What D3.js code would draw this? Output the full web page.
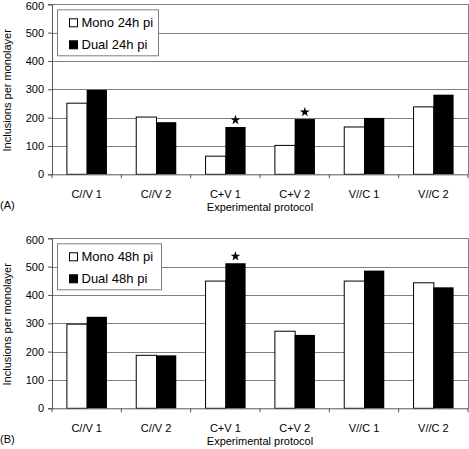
<!DOCTYPE html>
<html>
<head>
<meta charset="utf-8">
<script src="https://cdn.jsdelivr.net/npm/d3@7"></script>
<style>
  body { margin: 0; background: #fff; }
  svg { display: block; font-family: Arial, "Liberation Sans", sans-serif; }
</style>
</head>
<body>
<svg id="chart" width="469" height="449"></svg>
<script>
const categories = ["C//V 1", "C//V 2", "C+V 1", "C+V 2", "V//C 1", "V//C 2"];
const yTicks = [0, 100, 200, 300, 400, 500, 600];

const monoA = [251, 202, 64, 102, 167, 238];
const dualA = [298, 184, 167, 195, 199, 281];
const starsA = ["C+V 1", "C+V 2"];
const seriesA = ["Mono 24h pi", "Dual 24h pi"];

const monoB = [297, 187, 449, 272, 449, 443];
const dualB = [323, 187, 512, 259, 486, 427];
const starsB = ["C+V 1"];
const seriesB = ["Mono 48h pi", "Dual 48h pi"];

const svg = d3.select("#chart");
const left = 52, right = 468;
const gridColor = "#7f7f7f";

function panel(cfg) {
  const g = svg.append("g");
  const y = d3.scaleLinear().domain([0, 600]).range([cfg.y0, cfg.y0 - 170]);
  const x = d3.scaleBand().domain(categories).range([left, right]).padding(0);
  const xs = d3.scaleBand().domain(["mono", "dual"]).range([0, x.bandwidth()]).paddingOuter(0.71).paddingInner(0);

  // gridlines
  g.selectAll("line.grid").data(yTicks.filter(d => d > 0)).join("line")
    .attr("x1", left).attr("x2", right)
    .attr("y1", d => Math.round(y(d)) + 0.5).attr("y2", d => Math.round(y(d)) + 0.5)
    .attr("stroke", gridColor).attr("stroke-width", 1);
  // right border
  g.append("line").attr("x1", right + 0.5).attr("x2", right + 0.5)
    .attr("y1", y(600)).attr("y2", y(0)).attr("stroke", gridColor);

  // bars
  const rows = categories.map((c, i) => ({ c, mono: cfg.mono[i], dual: cfg.dual[i] }));
  const grp = g.selectAll("g.cat").data(rows).join("g")
    .attr("transform", d => `translate(${x(d.c)},0)`);
  grp.append("rect")
    .attr("x", xs("mono") + 0.5).attr("width", xs.bandwidth())
    .attr("y", d => y(d.mono)).attr("height", d => y(0) - y(d.mono))
    .attr("fill", "#fff").attr("stroke", "#000").attr("stroke-width", 1);
  grp.append("rect")
    .attr("x", xs("dual")).attr("width", xs.bandwidth())
    .attr("y", d => y(d.dual)).attr("height", d => y(0) - y(d.dual))
    .attr("fill", "#000");

  // stars
  const star = d3.symbol(d3.symbolStar, 30);
  g.selectAll("path.star").data(rows.filter(d => cfg.stars.includes(d.c))).join("path")
    .attr("d", star)
    .attr("transform", d => `translate(${x(d.c) + xs("dual") + xs.bandwidth() / 2},${y(d.dual) - 7})`)
    .attr("fill", "#000");

  // y axis
  const ya = g.append("g").attr("transform", `translate(${left},0)`)
    .call(d3.axisLeft(y).tickValues(yTicks).tickSize(4).tickPadding(4));
  ya.select(".domain").attr("stroke", "#555");
  ya.selectAll(".tick line").attr("stroke", "#555");
  ya.selectAll("text").attr("font-size", 11).attr("fill", "#000")
    .attr("font-family", "Arial, 'Liberation Sans', sans-serif")
    .attr("dy", d => d === 600 ? "0.45em" : "0.32em");

  // x axis
  const xa = g.append("g").attr("transform", `translate(0,${y(0)})`)
    .call(d3.axisBottom(x).tickSize(0).tickPadding(16));
  xa.select(".domain").attr("stroke", "#555");
  xa.selectAll("text").attr("font-size", 11).attr("fill", "#000").attr("font-family", "Arial, 'Liberation Sans', sans-serif");
  g.selectAll("line.xt").data(categories.concat(["__end"])).join("line")
    .attr("x1", (d, i) => left + i * x.step()).attr("x2", (d, i) => left + i * x.step())
    .attr("y1", y(0)).attr("y2", y(0) + 4).attr("stroke", "#555");

  // titles
  g.append("text").attr("x", 260).attr("y", cfg.y0 + 37).attr("text-anchor", "middle")
    .attr("font-size", 11).text("Experimental protocol");
  g.append("text").attr("x", 0).attr("y", cfg.y0 + 35).attr("font-size", 11).text(cfg.tag);
  g.append("text").attr("transform", `translate(11,${cfg.y0 - 84}) rotate(-90)`)
    .attr("text-anchor", "middle").attr("font-size", 11).text("Inclusions per monolayer");

  // legend
  const lg = g.append("g").attr("transform", `translate(57,${cfg.y0 - 165})`);
  lg.append("rect").attr("x", 0.5).attr("y", 0.5).attr("width", cfg.legendW).attr("height", 46)
    .attr("fill", "#fff").attr("stroke", gridColor);
  cfg.series.forEach((s, i) => {
    lg.append("rect").attr("x", 12.5).attr("y", 9.5 + i * 22).attr("width", 8).attr("height", 8)
      .attr("fill", i === 0 ? "#fff" : "#000").attr("stroke", "#000");
    lg.append("text").attr("x", 24.5).attr("y", 18 + i * 22).attr("font-size", 13).text(s);
  });
}

panel({ y0: 174.3, mono: monoA, dual: dualA, stars: starsA, series: seriesA, tag: "(A)", legendW: 101 });
panel({ y0: 408.3, mono: monoB, dual: dualB, stars: starsB, series: seriesB, tag: "(B)", legendW: 104 });
</script>
</body>
</html>
